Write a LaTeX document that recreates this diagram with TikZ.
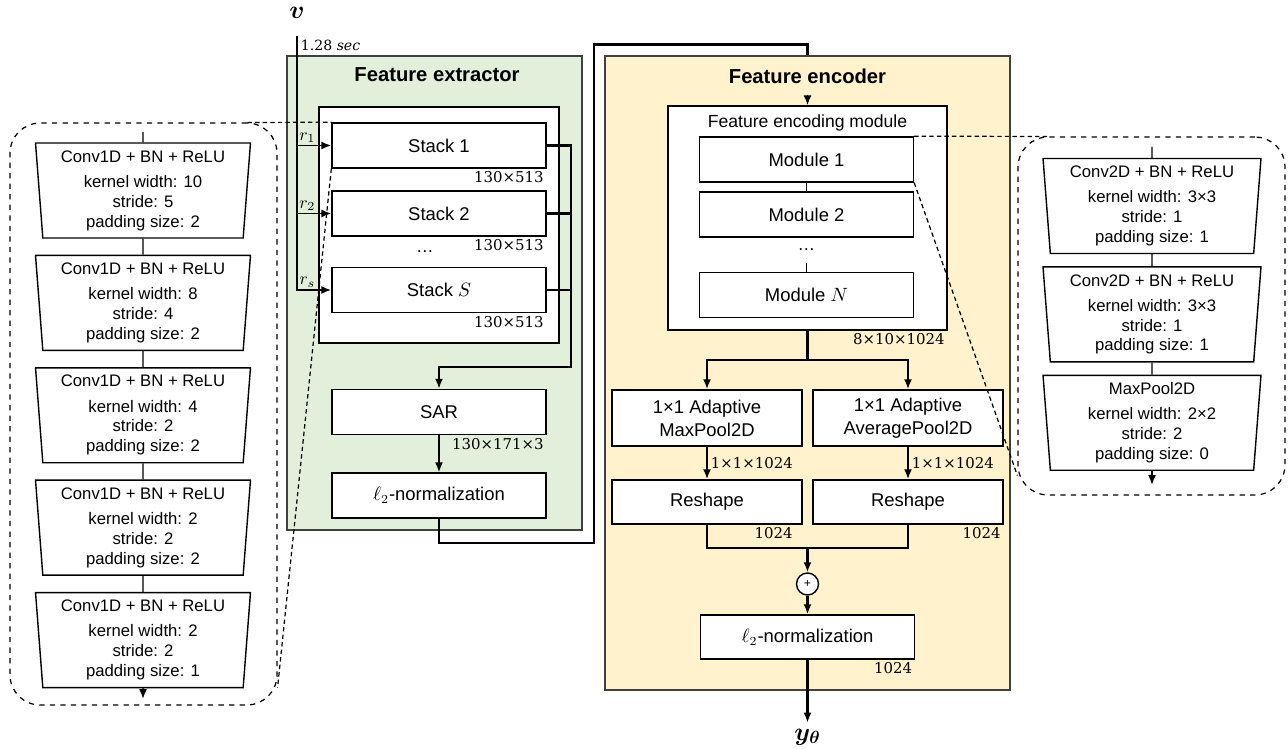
\documentclass[tikz,border=0pt]{standalone}
\usepackage{amsmath,amssymb}
\usepackage{fontspec}
\setmainfont{Liberation Sans}
\newfontfamily\dimfont{DejaVu Serif}
\usepackage{tikz}
\usetikzlibrary{arrows.meta,positioning,calc,shapes.geometric}
\definecolor{ExtGreen}{HTML}{E2EFDA}
\definecolor{EncYellow}{HTML}{FFF2CC}
\definecolor{PanelEdge}{HTML}{404040}

\begin{document}
\begin{tikzpicture}[x=0.02cm,y=-0.02cm,
    panel/.style={draw=PanelEdge,line width=0.8pt},
    box/.style={draw,line width=0.8pt,fill=white,minimum width=4.28cm,minimum height=0.9cm,align=center,font=\fontsize{10.5}{13}\selectfont},
    poolbox/.style={box,minimum width=3.8cm,minimum height=1.12cm},
    conv/.style={draw,line width=0.8pt,fill=white,trapezium,trapezium angle=85,shape border rotate=180,trapezium stretches body,minimum width=4.3cm,minimum height=1.9cm,align=center,inner sep=1pt,font=\fontsize{9.5}{11.3}\selectfont},
    zoomout/.style={draw,dashed,line width=0.7pt,rounded corners=0.6cm,minimum width=5.34cm},
    dimlbl/.style={font=\dimfont\fontsize{8.5}{10}\selectfont,inner sep=1.5pt},
    rlbl/.style={above,font=\fontsize{10}{12}\selectfont,inner sep=1pt},
    arr/.style={-{Latex[length=2mm,width=1.6mm]},line width=0.9pt},
    thk/.style={line width=1.4pt},
    thkarr/.style={thk,-{Latex[length=2mm,width=1.6mm]}},
    zoomline/.style={dash pattern=on 2.5pt off 1.8pt,line width=0.7pt},
    head/.style={font=\bfseries\fontsize{11.5}{13}\selectfont}
  ]
  \useasboundingbox (0,0) rectangle (1288,749);

  % panels
  \node[panel,fill=ExtGreen,minimum width=5.9cm,minimum height=9.48cm] (ext) at (434.5,293) {};
  \node[panel,fill=EncYellow,minimum width=8.1cm,minimum height=12.68cm] (enc) at (807.5,373) {};
  \node[head] (exthead) at (437,75) {Feature extractor};
  \node[head] (enchead) at (807.5,76) {Feature encoder};

  % left zoom: conv1d stack
  \node[zoomout,minimum height=11.64cm] (zoomL) at (143.5,414) {};
  \node[conv] (c1a) at (143,190.5) {Conv1D + BN + ReLU\\[3pt]kernel width: 10\\stride: 5\\padding size: 2};
  \node[conv,below=0.32cm of c1a] (c1b) {Conv1D + BN + ReLU\\[3pt]kernel width: 8\\stride: 4\\padding size: 2};
  \node[conv,below=0.32cm of c1b] (c1c) {Conv1D + BN + ReLU\\[3pt]kernel width: 4\\stride: 2\\padding size: 2};
  \node[conv,below=0.32cm of c1c] (c1d) {Conv1D + BN + ReLU\\[3pt]kernel width: 2\\stride: 2\\padding size: 2};
  \node[conv,below=0.32cm of c1d] (c1e) {Conv1D + BN + ReLU\\[3pt]kernel width: 2\\stride: 2\\padding size: 1};
  \coordinate (lin) at (143,132);
  \coordinate (lout) at (143,699);
  \draw[line width=0.8pt] (lin) -- (c1a);
  \draw[line width=0.8pt] (c1a) -- (c1b);
  \draw[line width=0.8pt] (c1b) -- (c1c);
  \draw[line width=0.8pt] (c1c) -- (c1d);
  \draw[line width=0.8pt] (c1d) -- (c1e);
  \draw[arr] (c1e) -- (lout);

  % right zoom: conv2d stack
  \node[zoomout,minimum height=7.16cm] (zoomR) at (1151.5,316) {};
  \node[conv,minimum width=4.36cm] (c2a) at (1152,206) {Conv2D + BN + ReLU\\[3pt]kernel width: 3×3\\stride: 1\\padding size: 1};
  \node[conv,minimum width=4.36cm,below=0.24cm of c2a] (c2b) {Conv2D + BN + ReLU\\[3pt]kernel width: 3×3\\stride: 1\\padding size: 1};
  \node[conv,minimum width=4.36cm,below=0.24cm of c2b] (c2c) {MaxPool2D\\[3pt]kernel width: 2×2\\stride: 2\\padding size: 0};
  \coordinate (rin) at (1152,147);
  \coordinate (rout) at (1152,485);
  \draw[line width=0.8pt] (rin) -- (c2a);
  \draw[line width=0.8pt] (c2a) -- (c2b);
  \draw[line width=0.8pt] (c2b) -- (c2c);
  \draw[arr] (c2c) -- (rout);

  % feature extractor
  \node[draw,line width=0.8pt,fill=white,minimum width=4.8cm,minimum height=4.72cm] (stk) at (439,225) {};
  \node[box] (s1) at (439,145.5) {Stack 1};
  \node[box] (s2) at (439,213.5) {Stack 2};
  \node (sdots) at (425,252) {\dots};
  \node[box] (s3) at (439,290) {Stack $S$};
  \node[dimlbl,anchor=north east] at (s1.south east) {130×513};
  \node[dimlbl,anchor=north east] at (s2.south east) {130×513};
  \node[dimlbl,anchor=north east] at (s3.south east) {130×513};
  \node[box] (sar) at (439,412) {SAR};
  \node[dimlbl,anchor=north east] at (sar.south east) {130×171×3};
  \node[box] (l2a) at (439,495.5) {$\ell_2$-normalization};

  \node (v) at (297,13) {\fontsize{14}{16}\selectfont$\boldsymbol{v}$};
  \coordinate (vin) at (297,36);
  \node[dimlbl,anchor=west,font=\dimfont\fontsize{8}{10}\selectfont] at (298,45) {1.28 \textit{sec}};
  \draw[line width=1.1pt,-{Latex[length=2mm,width=1.6mm]}] (vin) |- node[pos=0.65,rlbl] {$r_s$} (s3.west);
  \draw[arr] (vin |- s1.west) -- node[pos=0.3,rlbl] {$r_1$} (s1.west);
  \draw[arr] (vin |- s2.west) -- node[pos=0.3,rlbl] {$r_2$} (s2.west);

  \coordinate (bus) at (571,367);
  \draw[thkarr] (s1.east) -| (bus) -| (sar.north);
  \draw[thk] (s2.east) -- (s2.east -| bus);
  \draw[thk] (s3.east) -- (s3.east -| bus);
  \draw[arr] (sar) -- (l2a);
  \draw[line width=1.6pt] (l2a.south) |- (594,543) |- ($(enc.north)+(0,-11)$) -- (enc.north);

  % feature encoder
  \node[draw,line width=0.8pt,fill=white,minimum width=5.58cm,minimum height=4.48cm] (fem) at (807.5,218) {};
  \node[font=\fontsize{10}{12}\selectfont] (femhead) at (807.5,123) {Feature encoding module};
  \node[box] (m1) at (806.5,159.5) {Module 1};
  \node[box] (m2) at (806.5,214.5) {Module 2};
  \node[minimum height=0.5cm] (mdots) at (806.5,250) {\dots};
  \node[box] (mN) at (806.5,295) {Module $N$};
  \draw[line width=0.8pt] (m1) -- (m2);
  \draw[line width=0.8pt] (mdots) -- (mN);
  \coordinate (encin) at (807.5,95);
  \draw[arr] (encin) -- (fem);
  \node[dimlbl,anchor=north east] at (fem.south east) {8×10×1024};

  \coordinate (fork) at (807.5,360);
  \node[poolbox] (mp) at (707,418) {1×1 Adaptive\\MaxPool2D};
  \node[poolbox] (ap) at (908,418) {1×1 Adaptive\\AveragePool2D};
  \draw[thk] (fem) -- (fork);
  \draw[thkarr] (fork) -| (mp);
  \draw[thkarr] (fork) -| (ap);

  \node[box,minimum width=3.8cm,minimum height=0.88cm] (rs1) at (707,502) {Reshape};
  \node[box,minimum width=3.8cm,minimum height=0.88cm] (rs2) at (908,502) {Reshape};
  \draw[thkarr] (mp) -- node[dimlbl,right] {1×1×1024} (rs1);
  \draw[thkarr] (ap) -- node[dimlbl,right] {1×1×1024} (rs2);
  \node[dimlbl,anchor=north east] at ([xshift=-4pt]rs1.south east) {1024};
  \node[dimlbl,anchor=north east] at (rs2.south east) {1024};

  \coordinate (join) at (807.5,548);
  \draw[thk] (rs1) |- (join) -| (rs2);
  \node[circle,draw,line width=0.8pt,fill=white,minimum size=0.44cm,inner sep=0pt] (sum) at (807.5,584) {\scriptsize +};
  \draw[thkarr] (join) -- (sum);
  \node[box,minimum height=0.88cm] (l2b) at (807.5,637) {$\ell_2$-normalization};
  \draw[thkarr] (sum) -- (l2b);
  \node[dimlbl,anchor=north east] at (l2b.south east) {1024};
  \node (yout) at (807.5,737) {\fontsize{14}{16}\selectfont$\boldsymbol{y_\theta}$};
  \draw[thkarr] (l2b) -- (yout);

  % zoom guides
  \draw[zoomline] ($(zoomL.north east)+(-30,0)$) -- (s1.north west);
  \draw[zoomline] (s1.south west) -- ($(zoomL.south east)+(0,-18)$);
  \draw[zoomline] (m1.north east) -- ($(zoomR.north west)+(30,0)$);
  \draw[zoomline] (m1.south east) -- ($(zoomR.south west)+(0,-20)$);
\end{tikzpicture}
\end{document}
